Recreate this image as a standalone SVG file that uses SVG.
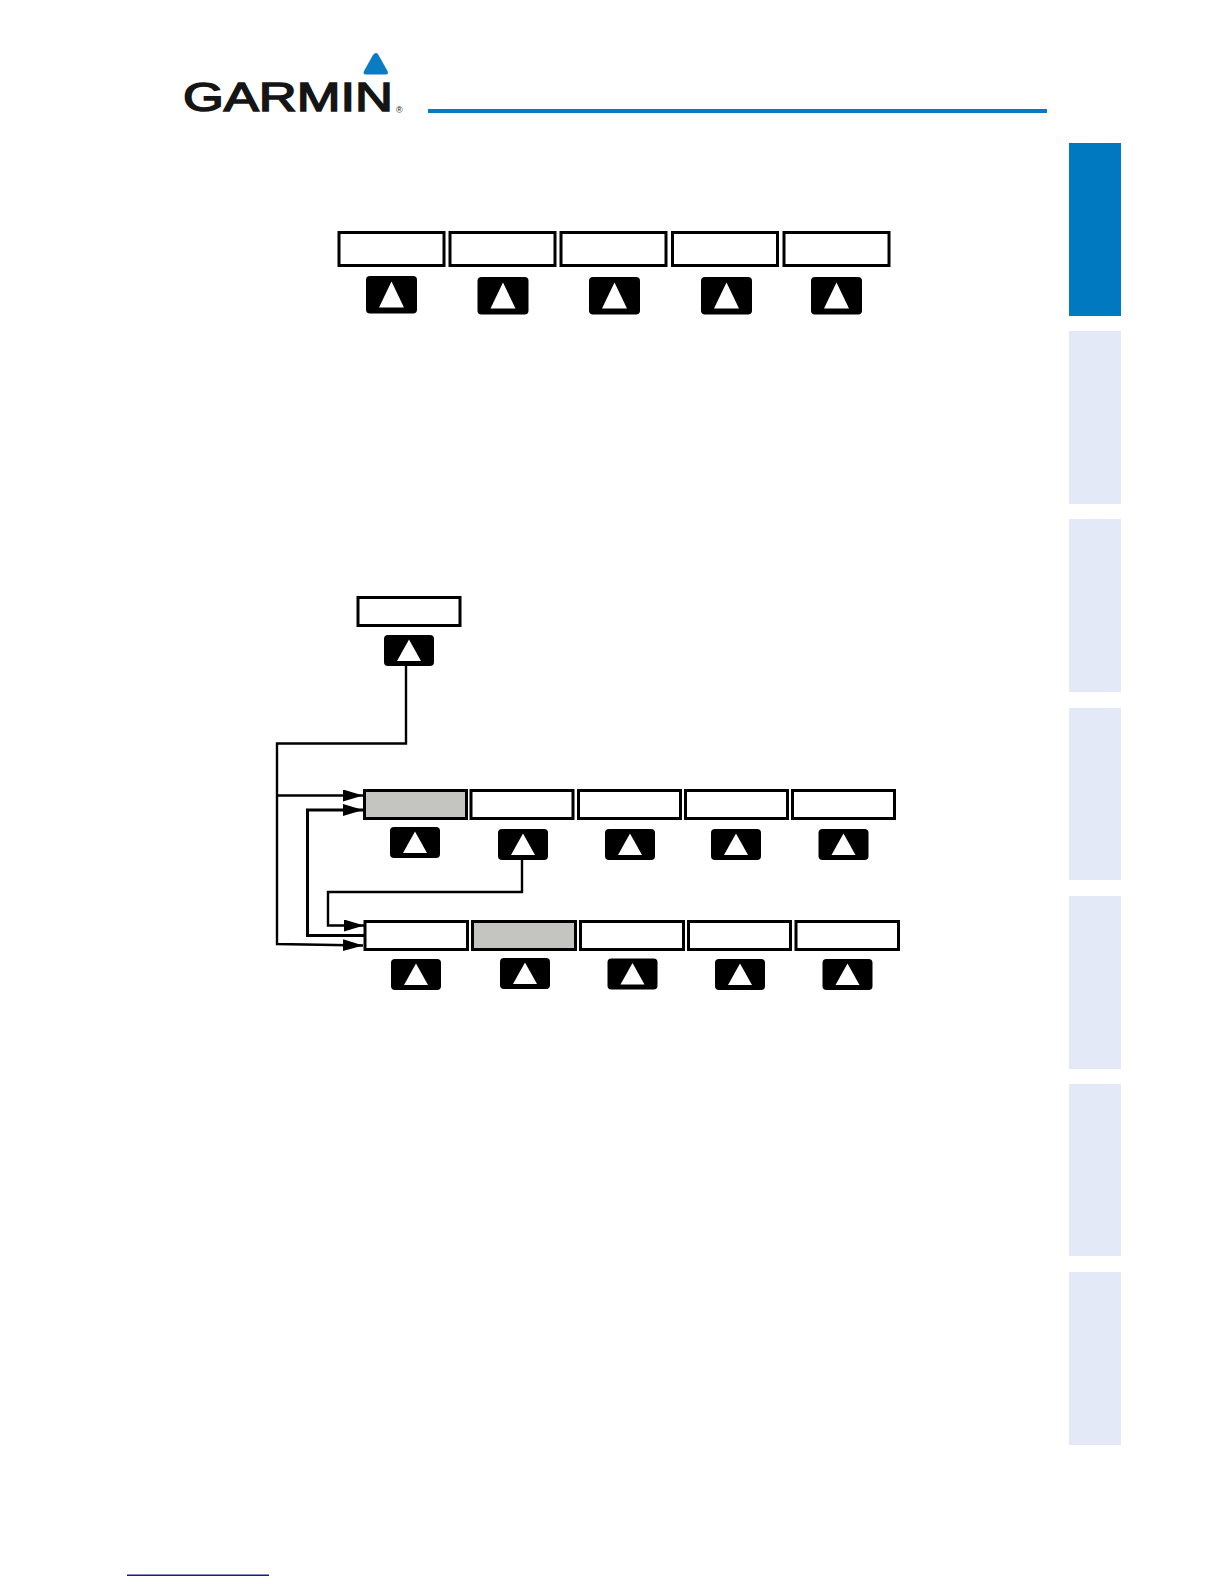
<svg xmlns="http://www.w3.org/2000/svg" width="1224" height="1584" viewBox="0 0 1224 1584">
<style>
.tab{fill:#e3e9f6}
.key{fill:#fff;stroke:#000;stroke-width:3}
.gray{fill:#c4c4c0}
.btn{fill:#000}
.tri{fill:#fff}
.c{fill:none;stroke:#000;stroke-width:2.4}
.ct{fill:none;stroke:#000;stroke-width:3}
</style>
<defs>
<g id="b"><rect class="btn" width="50" height="31" rx="4"/><path class="tri" d="M25 4.500L37 26H13Z"/></g>
<g id="bl"><rect class="btn" width="51" height="37.500" rx="4"/><path class="tri" d="M25.500 5.500L38 31.500H13Z"/></g>
<marker id="a" markerUnits="userSpaceOnUse" markerWidth="21" markerHeight="13" refX="20" refY="6" orient="auto"><path d="M0 0L20 6L0 12Z" fill="#000"/></marker>
</defs>
<rect width="1224" height="1584" fill="#fff"/>
<g id="logo">
<path d="M376 53Q377.500 53 378.500 55L387.500 71Q389 74.500 385.500 74.500H366Q362.500 74.500 364 71L373 55Q374.500 53 376 53Z" fill="#0a7cc4"/>
<text x="183" y="111" font-family="Liberation Sans, Arial, sans-serif" font-size="40" textLength="210" lengthAdjust="spacingAndGlyphs" fill="#151515" stroke="#151515" stroke-width="1.5">GARMIN</text>
<text x="396" y="113" font-family="Liberation Sans, Arial, sans-serif" font-size="9" fill="#151515">®</text>
</g>
<rect id="header-rule" x="428" y="109" width="619" height="4" fill="#0a7abf"/>
<g id="tabs">
<rect x="1069" y="143" width="52" height="173" fill="#0079c1"/>
<rect class="tab" x="1069" y="331" width="52" height="173"/>
<rect class="tab" x="1069" y="519" width="52" height="173"/>
<rect class="tab" x="1069" y="708" width="52" height="172"/>
<rect class="tab" x="1069" y="896" width="52" height="173"/>
<rect class="tab" x="1069" y="1084" width="52" height="172"/>
<rect class="tab" x="1069" y="1272" width="52" height="173"/>
</g>
<g id="top-row">
<g id="t1"><rect class="key" x="339" y="232.500" width="105" height="33"/><use href="#bl" x="366" y="276"/></g>
<g id="t2"><rect class="key" x="450" y="232.500" width="105" height="33"/><use href="#bl" x="477.500" y="277"/></g>
<g id="t3"><rect class="key" x="561" y="232.500" width="105" height="33"/><use href="#bl" x="589" y="277"/></g>
<g id="t4"><rect class="key" x="672.500" y="232.500" width="105" height="33"/><use href="#bl" x="701" y="277"/></g>
<g id="t5"><rect class="key" x="784" y="232.500" width="105" height="33"/><use href="#bl" x="811" y="277"/></g>
</g>
<g id="single"><rect class="key" x="358" y="597.500" width="102" height="28"/><use href="#b" x="384" y="635"/></g>
<g id="row1">
<g id="r1a"><rect class="key gray" x="364.500" y="790.500" width="102" height="28"/><use href="#b" x="390" y="827"/></g>
<g id="r1b"><rect class="key" x="471" y="790.500" width="102" height="28"/><use href="#b" x="498" y="829"/></g>
<g id="r1c"><rect class="key" x="578.500" y="790.500" width="102" height="28"/><use href="#b" x="605" y="829"/></g>
<g id="r1d"><rect class="key" x="685.500" y="790.500" width="102" height="28"/><use href="#b" x="711" y="829"/></g>
<g id="r1e"><rect class="key" x="792.500" y="790.500" width="102" height="28"/><use href="#b" x="818.500" y="829"/></g>
</g>
<g id="row2">
<g id="r2a"><rect class="key" x="365" y="921.500" width="102.500" height="28"/><use href="#b" x="391" y="959"/></g>
<g id="r2b"><rect class="key gray" x="472.500" y="921.500" width="103" height="28"/><use href="#b" x="500" y="958"/></g>
<g id="r2c"><rect class="key" x="580.500" y="921.500" width="103" height="28"/><use href="#b" x="607.500" y="958.500"/></g>
<g id="r2d"><rect class="key" x="688.500" y="921.500" width="102" height="28"/><use href="#b" x="715" y="959"/></g>
<g id="r2e"><rect class="key" x="796" y="921.500" width="102.500" height="28"/><use href="#b" x="822.500" y="959"/></g>
</g>
<g id="connectors">
<path class="c" d="M406 666V743.500H277V944L363 945.500" marker-end="url(#a)"/>
<path class="c" d="M277 795.500H363" marker-end="url(#a)"/>
<path class="ct" d="M365 935.500H307.500V810H363" marker-end="url(#a)"/>
<path class="c" d="M522 860V892H328V925.500H364" marker-end="url(#a)"/>
</g>
<rect id="footer-rule" x="127" y="1574.500" width="142" height="1.500" fill="#1a1a8c"/>
</svg>
